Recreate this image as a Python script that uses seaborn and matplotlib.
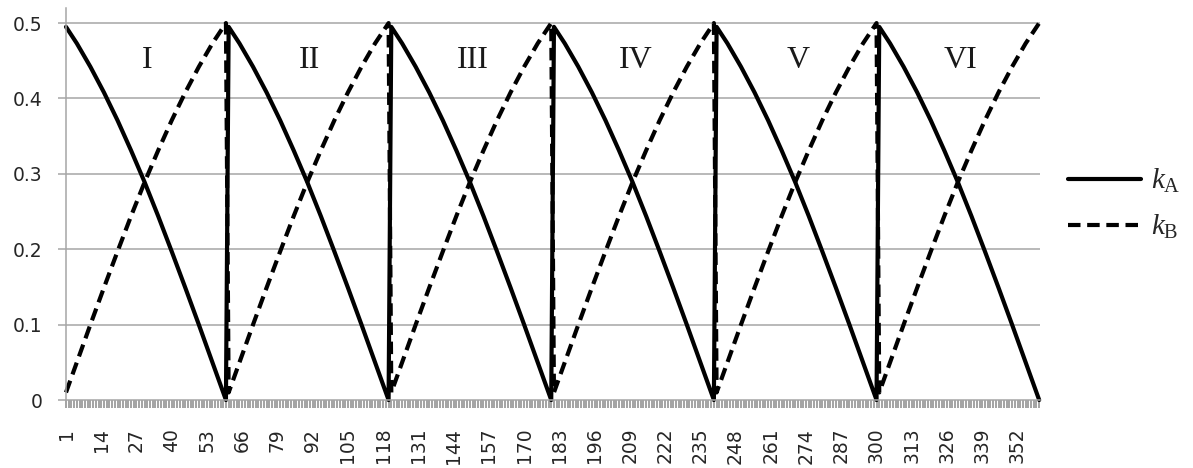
import numpy as np
import pandas as pd
import matplotlib
matplotlib.use("Agg")
import matplotlib.pyplot as plt
import seaborn as sns
from matplotlib.lines import Line2D

# ---------------- data ----------------
sector_angle = [1, 5, 10, 15, 20, 25, 30, 35, 40, 45, 50, 55, 60]
kA_profile = [0.495, 0.473, 0.442, 0.408, 0.371, 0.331, 0.289,
              0.244, 0.197, 0.149, 0.100, 0.050, 0.000]
kB_profile = [0.010, 0.050, 0.100, 0.149, 0.197, 0.244, 0.289,
              0.331, 0.371, 0.408, 0.442, 0.473, 0.500]
sector_names = ["I", "II", "III", "IV", "V", "VI"]
x_tick_labels = ["1", "14", "27", "40", "53", "66", "79", "92", "105", "118",
                 "131", "144", "157", "170", "183", "196", "209", "222",
                 "235", "248", "261", "274", "287", "300", "313", "326",
                 "339", "352"]
y_tick_values = [0, 0.1, 0.2, 0.3, 0.4, 0.5]
y_tick_labels = ["0", "0.1", "0.2", "0.3", "0.4", "0.5"]
series_labels = [r"$k_{\mathrm{A}}$", r"$k_{\mathrm{B}}$"]

n_sectors = len(sector_names)
category = np.concatenate([60 * s + np.array(sector_angle) for s in range(n_sectors)])
df = pd.DataFrame({
    "category": category,
    "kA": np.tile(kA_profile, n_sectors),
    "kB": np.tile(kB_profile, n_sectors),
})

# ---------------- style ----------------
sns.set_theme(style="white")
plt.rcParams["font.family"] = ["DejaVu Sans"]
plt.rcParams["mathtext.fontset"] = "custom"
plt.rcParams["mathtext.rm"] = "Liberation Serif"
plt.rcParams["mathtext.it"] = "Liberation Serif:italic"

grid_col = "#a6a6a6"
text_col = "#262626"
lw = 3.0
dash = (0, (3.0, 1.6))

fig = plt.figure(figsize=(11.93, 4.68), dpi=100)
ax = fig.add_axes([66 / 1193, 1 - 400 / 468, (1040 - 66) / 1193, (400 - 8) / 468])

sns.lineplot(data=df, x="category", y="kB", color="black", lw=lw,
             linestyle=dash, ax=ax, sort=False, clip_on=False)
sns.lineplot(data=df, x="category", y="kA", color="black", lw=lw,
             ax=ax, sort=False, clip_on=False)

ax.set_xlim(1, 360.3)
ax.set_ylim(0, 0.52)
ax.set_xlabel("")
ax.set_ylabel("")

# grid
for v in y_tick_values[1:]:
    ax.axhline(v, color=grid_col, lw=1.1, zorder=0)

# spines
for s in ["top", "right"]:
    ax.spines[s].set_visible(False)
for s in ["left", "bottom"]:
    ax.spines[s].set_color(grid_col)
    ax.spines[s].set_linewidth(1.1)

# ticks
x_major = [int(t) for t in x_tick_labels]
ax.set_xticks(x_major)
ax.set_xticklabels(x_tick_labels, rotation=90, fontsize=13.5, color=text_col)
ax.set_xticks(np.arange(1, 361), minor=True)
ax.tick_params(axis="x", which="both", direction="out", length=6,
               width=1.1, color="#8a8a8a", bottom=True)
ax.tick_params(axis="x", which="major", pad=14)
ax.set_yticks(y_tick_values)
ax.set_yticklabels(y_tick_labels, fontsize=13.5, color=text_col)
ax.tick_params(axis="y", which="major", direction="out", length=6,
               width=1.1, color=grid_col, left=True, pad=11)

# sector labels
for s, name in enumerate(sector_names):
    ax.text(60 * s + 31, 0.451, name, ha="center", va="center",
            fontsize=23, family="Liberation Serif", color="#1a1a1a")

# legend
handles = [Line2D([], [], color="black", lw=lw),
           Line2D([], [], color="black", lw=lw, linestyle=dash)]
fig.legend(handles, series_labels, loc="center left",
           bbox_to_anchor=(1068 / 1193, 1 - 204 / 468), frameon=False,
           borderpad=0, borderaxespad=0,
           fontsize=21, handlelength=2.5, labelspacing=0.6, handletextpad=0.35)

fig.savefig("out.png", dpi=100)
